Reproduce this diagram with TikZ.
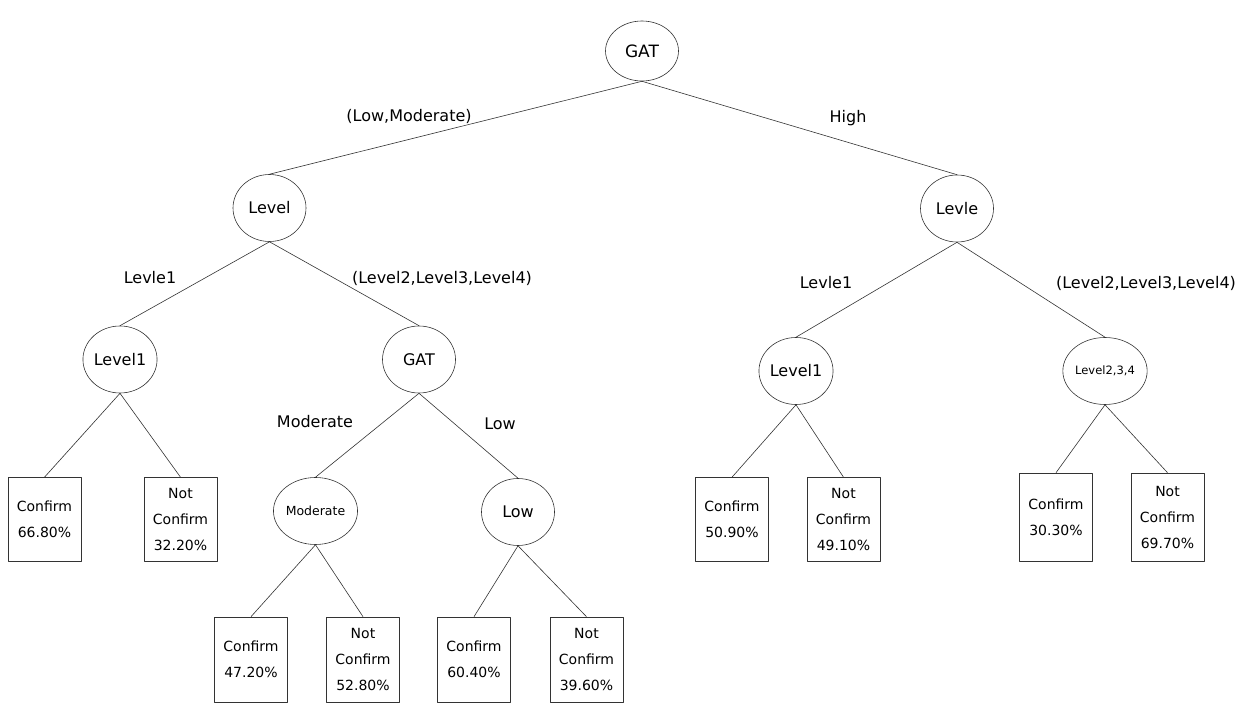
\documentclass[tikz,border=0pt]{standalone}
\usepackage{fontspec}
\setmainfont{DejaVu Sans}
\usepackage{tikz}
\usetikzlibrary{arrows,shapes}

\begin{document}
\begin{tikzpicture}[line join=bevel,
  split/.style={draw=black!80,ellipse,inner sep=0pt,minimum width=73bp,minimum height=67bp,font=\fontsize{16bp}{19bp}\selectfont},
  leaf/.style={draw=black!80,rectangle,inner sep=0pt,minimum width=73bp,minimum height=84bp,align=center,font=\fontsize{14bp}{26bp}\selectfont},
  cond/.style={inner sep=0pt,font=\fontsize{16bp}{19bp}\selectfont},
  ]
\useasboundingbox (0bp,0bp) rectangle (1244bp,703bp);
%%
\begin{scope}[line width=0.6bp]
  \node (GAT) at (642bp,652bp) [split,minimum height=60bp,font=\fontsize{17bp}{20bp}\selectfont] {GAT};
  \node (Level) at (269.5bp,495bp) [split] {Level};
  \node (Levle) at (957bp,494.5bp) [split] {Levle};
  \node (Level1) at (120bp,343.5bp) [split] {Level1};
  \node (GAT 2) at (419bp,343.5bp) [split] {GAT};
  \node (Level1 2) at (796bp,332bp) [split] {Level1};
  \node (Level234) at (1105bp,332bp) [split,font=\fontsize{11.5bp}{14bp}\selectfont] {Level2,3,4};
  \node (Moderate) at (315.5bp,192bp) [split,font=\fontsize{12.5bp}{15bp}\selectfont] {Moderate};
  \node (Low) at (518bp,191bp) [split] {Low};
\end{scope}
\begin{scope}[line width=0.6bp]
  \node (Confirm 1) at (44.5bp,183.5bp) [leaf] {Confirm\\66.80\%};
  \node (Not Confirm 1) at (180.5bp,183.5bp) [leaf] {Not\\Confirm\\32.20\%};
  \node (Confirm 2) at (251bp,43.5bp) [leaf,minimum height=85bp] {Confirm\\47.20\%};
  \node (Not Confirm 2) at (363bp,43.5bp) [leaf,minimum height=85bp] {Not\\Confirm\\52.80\%};
  \node (Confirm 3) at (474bp,43.5bp) [leaf,minimum height=85bp] {Confirm\\60.40\%};
  \node (Not Confirm 3) at (586.5bp,43.5bp) [leaf,minimum height=85bp] {Not\\Confirm\\39.60\%};
  \node (Confirm 4) at (732bp,183.5bp) [leaf] {Confirm\\50.90\%};
  \node (Not Confirm 4) at (843.5bp,183.5bp) [leaf] {Not\\Confirm\\49.10\%};
  \node (Confirm 5) at (1056bp,186bp) [leaf,minimum height=88bp] {Confirm\\30.30\%};
  \node (Not Confirm 5) at (1167.5bp,186bp) [leaf,minimum height=88bp] {Not\\Confirm\\69.70\%};
\end{scope}
\begin{scope}[line width=0.6bp,draw=black!80]
  \draw [] (GAT.south) -- (Level.north);
  \draw [] (GAT.south) -- (Levle.north);
  \draw [] (Level.south) -- (Level1.north);
  \draw [] (Level.south) -- (GAT 2.north);
  \draw [] (Level1.south) -- (Confirm 1.north);
  \draw [] (Level1.south) -- (Not Confirm 1.north);
  \draw [] (GAT 2.south) -- (Moderate.north);
  \draw [] (GAT 2.south) -- (Low.north);
  \draw [] (Moderate.south) -- (Confirm 2.north);
  \draw [] (Moderate.south) -- (Not Confirm 2.north);
  \draw [] (Low.south) -- (Confirm 3.north);
  \draw [] (Low.south) -- (Not Confirm 3.north);
  \draw [] (Levle.south) -- (Level1 2.north);
  \draw [] (Levle.south) -- (Level234.north);
  \draw [] (Level1 2.south) -- (Confirm 4.north);
  \draw [] (Level1 2.south) -- (Not Confirm 4.north);
  \draw [] (Level234.south) -- (Confirm 5.north);
  \draw [] (Level234.south) -- (Not Confirm 5.north);
\end{scope}
%
  \node (LowModerate) at (409bp,587bp) [cond] {(Low,Moderate)};
  \node (High) at (848bp,585bp) [cond] {High};
  \node (Levle1 L) at (150bp,425bp) [cond] {Levle1};
  \node (Level234 L) at (442bp,425bp) [cond] {(Level2,Level3,Level4)};
  \node (Moderate cond) at (315bp,281bp) [cond] {Moderate};
  \node (Low cond) at (500bp,279bp) [cond] {Low};
  \node (Levle1 R) at (826bp,420bp) [cond] {Levle1};
  \node (Level234 R) at (1146bp,420bp) [cond] {(Level2,Level3,Level4)};
%
\end{tikzpicture}
\end{document}
